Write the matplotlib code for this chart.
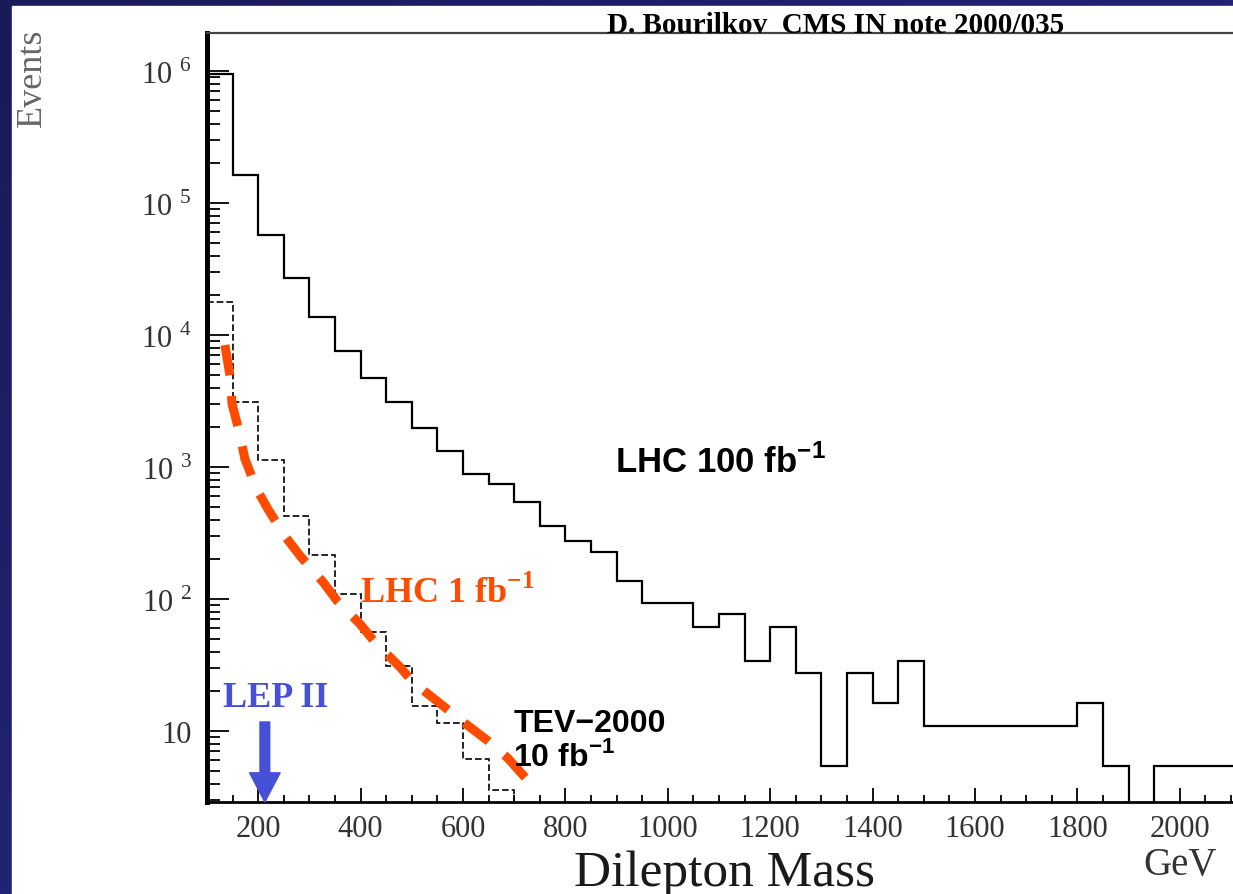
import numpy as np
import matplotlib
matplotlib.use("Agg")
import matplotlib.pyplot as plt
from matplotlib.ticker import MultipleLocator, LogLocator, NullFormatter, FuncFormatter
from matplotlib.colors import LinearSegmentedColormap
from matplotlib.patches import Rectangle

plt.rcParams['font.family'] = ['Liberation Serif', 'DejaVu Serif']

# 50 GeV bins, dilepton mass
bin_lo = 100
bin_w = 50

# LHC 100 fb-1 (solid)
lhc100 = [9.5e5, 1.63e5, 5.7e4, 2.7e4, 1.37e4, 7.6e3, 4.7e3, 3.1e3, 1.97e3, 1.32e3,
          890, 745, 540, 357, 275, 227, 137, 93, 93, 61,
          77, 34, 61, 27.5, 5.4, 27.5, 16.3, 34, 10.9, 10.9,
          10.9, 10.9, 10.9, 10.9, 16.3, 5.4, 0, 5.4, 5.4, 5.4, 5.4]

# TEV-2000 10 fb-1 (dashed)
tev = [1.79e4, 3.13e3, 1.13e3, 428, 215, 109, 56.5, 31, 15.4, 11.4, 6.1, 3.6, 0]

# LHC 1 fb-1 (hand drawn orange curve)
lhc1_mass = [135, 145, 149, 164, 174, 198, 219, 252, 282, 327, 354, 399, 428,
             477, 502, 561, 598, 649, 688, 737]
lhc1_events = [8400, 4900, 3000, 1780, 1150, 670, 480, 300, 212, 134, 97, 64.6, 47,
               30.5, 23.5, 15.5, 11.9, 8.4, 6.2, 3.8]

lep_mass = 213

xticks = list(range(200, 2001, 200))

W, H = 1233, 895
fig = plt.figure(figsize=(W / 100, H / 100), dpi=100)

# slide background: navy frame, white page
bg = fig.add_axes([0, 0, 1, 1])
cmap = LinearSegmentedColormap.from_list('navy', ['#191a58', '#2c2c90'])
gx, gy = np.meshgrid(np.linspace(0, 1, 200), np.linspace(0, 1, 200))
bg.imshow((gx + gy) / 2, cmap=cmap, extent=[0, 1, 0, 1], aspect='auto', origin='upper')
bg.add_patch(Rectangle((12 / W, 0), 1, (H - 7) / H, color='white'))
bg.set_xlim(0, 1)
bg.set_ylim(0, 1)
bg.axis('off')

ax = fig.add_axes([207 / W, 92 / H, 1026 / W, 769 / H])
ax.set_facecolor('none')

edges = bin_lo + bin_w * np.arange(len(lhc100) + 1)
ax.stairs(np.clip(lhc100, 0.01, None), edges, color='black', lw=1.6, baseline=None)

edges_tev = bin_lo + bin_w * np.arange(len(tev) + 1)
ax.stairs(np.clip(tev, 0.01, None), edges_tev, color='black', lw=1.2,
          linestyle=(0, (4, 1.8)), baseline=None)

ax.plot(lhc1_mass, lhc1_events, color='#ff4b00', lw=6.5,
        linestyle=(0, (3.4, 2.3)), solid_capstyle='butt', dash_capstyle='butt')

ax.set_yscale('log')
ax.set_xlim(100, 100 + 1026 / 0.512)
ax.set_ylim(10 ** 0.462, 10 ** 6.288)

ax.set_xticks(xticks)
ax.xaxis.set_minor_locator(MultipleLocator(50))
ax.yaxis.set_major_locator(LogLocator(base=10, numticks=10))
ax.yaxis.set_minor_locator(LogLocator(base=10, subs=np.arange(2, 10), numticks=20))
ax.yaxis.set_minor_formatter(NullFormatter())


def ylab(v, pos):
    e = int(round(np.log10(v)))
    if e == 1:
        return "10"
    return "10 $^{\\mathregular{%d}}$" % e


ax.yaxis.set_major_formatter(FuncFormatter(ylab))

ax.tick_params(axis='x', which='major', direction='in', length=10, width=1.3,
               labelsize=22, pad=9, labelcolor='#333333')
ax.tick_params(axis='x', which='minor', direction='in', length=5, width=1.3)
ax.tick_params(axis='y', which='major', direction='in', length=16, width=1.3,
               labelsize=22, pad=11, labelcolor='#333333')
ax.tick_params(axis='y', which='minor', direction='in', length=9, width=1.3)

ax.spines['right'].set_visible(False)
ax.spines['left'].set_linewidth(3.6)
ax.spines['bottom'].set_linewidth(2)
ax.spines['top'].set_linewidth(1.6)
ax.spines['top'].set_color('#444444')

# annotations
ax.text(897, 1110, "LHC 100 fb$^{\\mathregular{-1}}$", family='Liberation Sans',
        weight='bold', fontsize=25, va='center', ha='left')
ax.text(698, 11.4, "TEV\u22122000", family='Liberation Sans', weight='bold',
        fontsize=23, va='center', ha='left')
ax.text(698, 6.5, "10 fb$^{\\mathregular{-1}}$", family='Liberation Sans', weight='bold',
        fontsize=23, va='center', ha='left')
ax.text(399, 112, "LHC 1 fb$^{\\mathregular{-1}}$", weight='bold', fontsize=26,
        color='#ff4b00', va='center', ha='left')
ax.text(131, 17.8, "LEP II", weight='bold', fontsize=26, color='#4650d6',
        va='center', ha='left')
ax.annotate('', xy=(lep_mass, 10 ** 0.462), xytext=(lep_mass, 11.7),
            arrowprops=dict(width=7, headwidth=22, headlength=21, color='#4650d6', shrink=0),
            annotation_clip=False)

fig.text(724 / W, 1 - 886 / H, "Dilepton Mass", fontsize=37, color='#1a1a1a',
         ha='center', va='baseline')
fig.text(1143 / W, 1 - 866 / H, "GeV", fontsize=28, color='#333333',
         ha='left', va='center')
fig.text(32 / W, 1 - 78 / H, "Events", fontsize=26, color='#666666',
         rotation=90, ha='center', va='center')
fig.text(607 / W, 1 - 33 / H, "D. Bourilkov  CMS IN note 2000/035", fontsize=21,
         weight='bold', ha='left', va='baseline')

fig.savefig('out.png', dpi=100)
